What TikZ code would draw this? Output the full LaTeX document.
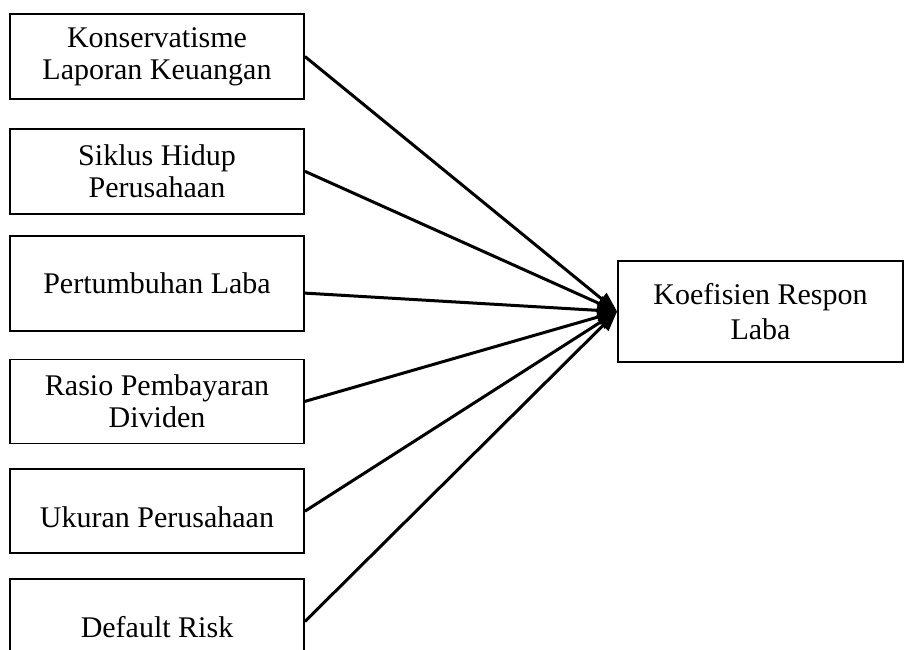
\documentclass[tikz,border=0pt]{standalone}
\usepackage{fontspec}
\setmainfont{Liberation Serif}
\usetikzlibrary{positioning,arrows.meta}

\tikzset{
  varbox/.style={draw,line width=1.8pt,minimum width=294pt,minimum height=84pt,
    align=center,inner sep=2pt,font=\fontsize{30}{32}\selectfont},
  lowtext/.style={text height=38pt,text depth=6pt},
  pengaruh/.style={line width=3pt,-{Triangle[length=20pt,width=15pt]}}
}

\begin{document}
\begin{tikzpicture}[x=1pt,y=-1pt]
  \clip (0,0) rectangle (904,649);
  % variabel independen
  \node[varbox, minimum height=85pt] (klk) at (157,56.5) {Konservatisme\\Laporan Keuangan};
  \node[varbox, minimum height=85pt, below=28pt of klk] (shp) {Siklus Hidup\\Perusahaan};
  \node[varbox, minimum height=95pt, below=20pt of shp] (pl) {Pertumbuhan Laba};
  \node[varbox, below=27pt of pl] (rpd) {Rasio Pembayaran\\Dividen};
  \node[varbox, lowtext, below=24pt of rpd] (up) {Ukuran Perusahaan};
  \node[varbox, lowtext, minimum height=85pt, below=24pt of up] (dr) {Default Risk};
  % variabel dependen
  \node[varbox, minimum width=285pt, minimum height=101pt,
    font=\fontsize{30}{35}\selectfont] (krl) at (760.5,311.5) {Koefisien Respon\\Laba};
  \foreach \v in {klk,shp,rpd,up,dr}
    \draw[pengaruh] (\v.east) -- (krl.west);
  \draw[pengaruh] ([yshift=-10pt]pl.east) -- (krl.west);
\end{tikzpicture}
\end{document}
